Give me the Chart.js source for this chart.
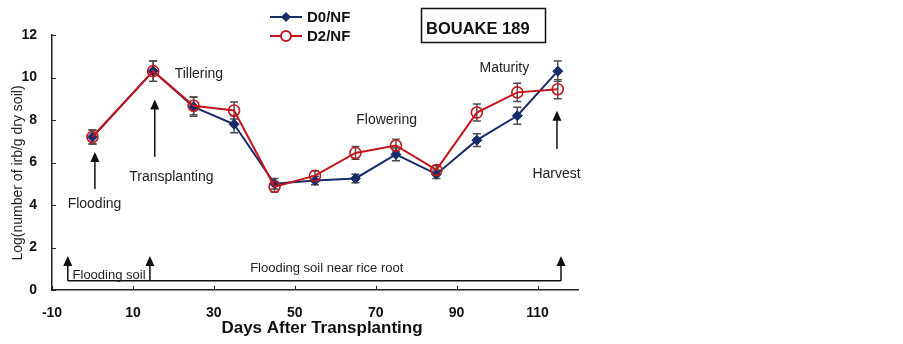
<!DOCTYPE html>
<html>
<head>
<meta charset="utf-8">
<script src="https://cdn.jsdelivr.net/npm/chart.js@4/dist/chart.umd.min.js"></script>
<style>
  html, body { margin: 0; padding: 0; background: #fff; }
  #wrap { width: 903px; height: 344px; }
</style>
</head>
<body>
<div id="wrap"><canvas id="myChart" width="903" height="344"></canvas></div>
<script>
// days after transplanting
const days = [0, 15, 25, 35, 45, 55, 65, 75, 85, 95, 105, 115];

const d0 = [7.2, 10.3, 8.62, 7.8, 5.0, 5.15, 5.25, 6.38, 5.45, 7.05, 8.2, 10.3];
const d0Err = [0.33, 0.48, 0.45, 0.4, 0.25, 0.2, 0.2, 0.3, 0.2, 0.3, 0.4, 0.48];
const d2 = [7.2, 10.3, 8.67, 8.45, 4.86, 5.38, 6.45, 6.8, 5.65, 8.35, 9.3, 9.45];
const d2Err = [0.33, 0.48, 0.42, 0.4, 0.25, 0.22, 0.3, 0.3, 0.2, 0.4, 0.43, 0.45];

const xTicks = [-10, 10, 30, 50, 70, 90, 110];
const yTicks = [0, 2, 4, 6, 8, 10, 12];

// growth stage notes (data coords)
const stageLabels = ['Tillering', 'Transplanting', 'Flooding', 'Flowering', 'Maturity', 'Harvest'];
const stageX = [26.3, 19.5, 0.5, 72.7, 101.8, 114.7];
const stageY = [10.17, 5.3, 4.03, 8.0, 10.43, 5.44];
const stageArrowX = [0.6, 15.4, 114.8];
const stageArrowFrom = [4.75, 6.27, 6.63];
const stageArrowTo = [6.5, 8.97, 8.44];

// flooding period line at the bottom
const periodY = 0.44;
const periodStart = -6.1;
const periodEnd = 115.8;
const periodArrowX = [-6.1, 14.2, 115.8];
const periodArrowTop = 1.6;
const periodLabels = ['Flooding soil', 'Flooding soil near rice root'];
const periodLabelX = [4.1, 57.9];
const periodLabelY = [0.7, 1.02];

const FONT = "'Liberation Sans', Arial, sans-serif";
const navy = '#172d6a';
const red = '#c3161c';

function toPoints(xs, ys) {
    let pts = [];
    for (let i = 0; i < xs.length; i++) {
        pts.push({x: xs[i], y: ys[i]});
    }
    return pts;
}

function arrowUp(ctx, x, yBottom, yTop) {
    ctx.beginPath();
    ctx.moveTo(x, yBottom);
    ctx.lineTo(x, yTop + 8);
    ctx.stroke();
    ctx.beginPath();
    ctx.moveTo(x, yTop);
    ctx.lineTo(x - 4.5, yTop + 10);
    ctx.lineTo(x + 4.5, yTop + 10);
    ctx.closePath();
    ctx.fill();
}

const errorBars = {
    id: 'errorBars',
    beforeDatasetsDraw(chart) {
        const ctx = chart.ctx;
        const xs = chart.scales.x, ys = chart.scales.y;
        const sets = [[d0, d0Err], [d2, d2Err]];
        ctx.save();
        ctx.strokeStyle = '#4a4a4a';
        ctx.lineWidth = 1.4;
        sets.forEach(function(s) {
            for (let i = 0; i < days.length; i++) {
                const px = xs.getPixelForValue(days[i]);
                const top = ys.getPixelForValue(s[0][i] + s[1][i]);
                const bot = ys.getPixelForValue(s[0][i] - s[1][i]);
                ctx.beginPath();
                ctx.moveTo(px, top); ctx.lineTo(px, bot);
                ctx.moveTo(px - 4, top); ctx.lineTo(px + 4, top);
                ctx.moveTo(px - 4, bot); ctx.lineTo(px + 4, bot);
                ctx.stroke();
            }
        });
        ctx.restore();
    }
};

const extras = {
    id: 'extras',
    afterDraw(chart) {
        const ctx = chart.ctx;
        const xs = chart.scales.x, ys = chart.scales.y;
        const area = chart.chartArea;
        ctx.save();

        // inside ticks
        ctx.strokeStyle = '#222';
        ctx.lineWidth = 1;
        xTicks.forEach(function(v) {
            const px = Math.round(xs.getPixelForValue(v)) + 0.5;
            ctx.beginPath();
            ctx.moveTo(px, area.bottom); ctx.lineTo(px, area.bottom - 4);
            ctx.stroke();
        });
        yTicks.forEach(function(v) {
            const py = Math.round(ys.getPixelForValue(v)) + 0.5;
            ctx.beginPath();
            ctx.moveTo(area.left, py); ctx.lineTo(area.left + 4, py);
            ctx.stroke();
        });

        // axis titles
        ctx.fillStyle = '#111';
        ctx.textAlign = 'center';
        ctx.textBaseline = 'middle';
        ctx.font = 'bold 17px ' + FONT;
        ctx.fillText('Days After Transplanting', 322, 328);

        ctx.save();
        ctx.translate(18, 173);
        ctx.rotate(-Math.PI / 2);
        ctx.fillStyle = '#222';
        ctx.font = '14px ' + FONT;
        ctx.fillText('Log(number of irb/g dry soil)', 0, 0);
        ctx.restore();

        // stage notes
        ctx.fillStyle = '#222';
        ctx.font = '14px ' + FONT;
        for (let i = 0; i < stageLabels.length; i++) {
            ctx.fillText(stageLabels[i], xs.getPixelForValue(stageX[i]), ys.getPixelForValue(stageY[i]));
        }
        ctx.strokeStyle = '#111';
        ctx.fillStyle = '#111';
        ctx.lineWidth = 1.5;
        for (let i = 0; i < stageArrowX.length; i++) {
            arrowUp(ctx, xs.getPixelForValue(stageArrowX[i]),
                ys.getPixelForValue(stageArrowFrom[i]), ys.getPixelForValue(stageArrowTo[i]));
        }

        // flooding period
        const lineY = ys.getPixelForValue(periodY);
        ctx.beginPath();
        ctx.moveTo(xs.getPixelForValue(periodStart), lineY);
        ctx.lineTo(xs.getPixelForValue(periodEnd), lineY);
        ctx.stroke();
        periodArrowX.forEach(function(v) {
            arrowUp(ctx, xs.getPixelForValue(v), lineY, ys.getPixelForValue(periodArrowTop));
        });
        ctx.fillStyle = '#222';
        ctx.font = '13px ' + FONT;
        for (let i = 0; i < periodLabels.length; i++) {
            ctx.fillText(periodLabels[i], xs.getPixelForValue(periodLabelX[i]), ys.getPixelForValue(periodLabelY[i]));
        }

        // legend
        const items = chart.data.datasets;
        ctx.textAlign = 'left';
        ctx.font = 'bold 15px ' + FONT;
        items.forEach(function(ds, i) {
            const ly = 17 + i * 19;
            ctx.strokeStyle = ds.borderColor;
            ctx.lineWidth = 2;
            ctx.beginPath();
            ctx.moveTo(270, ly); ctx.lineTo(302, ly);
            ctx.stroke();
            if (ds.pointStyle === 'rectRot') {
                ctx.fillStyle = ds.borderColor;
                ctx.beginPath();
                ctx.moveTo(286, ly - 5); ctx.lineTo(291, ly);
                ctx.lineTo(286, ly + 5); ctx.lineTo(281, ly);
                ctx.closePath();
                ctx.fill();
            } else {
                ctx.fillStyle = '#fff';
                ctx.beginPath();
                ctx.arc(286, ly, 5, 0, Math.PI * 2);
                ctx.fill();
                ctx.stroke();
            }
            ctx.fillStyle = '#111';
            ctx.fillText(ds.label, 307, ly + 1);
        });

        // title box
        ctx.strokeStyle = '#111';
        ctx.lineWidth = 1.5;
        ctx.strokeRect(421.5, 8.5, 124, 34);
        ctx.fillStyle = '#111';
        ctx.font = 'bold 16.5px ' + FONT;
        ctx.fillText('BOUAKE 189', 426, 29);

        ctx.restore();
    }
};

const config = {
    type: 'line',
    data: {
        datasets: [
            {
                label: 'D0/NF',
                data: toPoints(days, d0),
                borderColor: navy,
                backgroundColor: navy,
                borderWidth: 2,
                pointStyle: 'rectRot',
                pointRadius: 5,
                pointBorderWidth: 1,
                tension: 0,
                order: 1
            },
            {
                label: 'D2/NF',
                data: toPoints(days, d2),
                borderColor: red,
                backgroundColor: 'rgba(0,0,0,0)',
                borderWidth: 2,
                pointStyle: 'circle',
                pointRadius: 5.5,
                pointBorderWidth: 1.6,
                tension: 0,
                order: 0
            }
        ]
    },
    options: {
        responsive: false,
        animation: false,
        layout: { padding: { left: 0, right: 325, top: 35, bottom: 0 } },
        plugins: {
            legend: { display: false },
            tooltip: { enabled: false }
        },
        scales: {
            x: {
                type: 'linear',
                min: -10,
                max: 120,
                afterBuildTicks: function(s) { s.ticks = xTicks.map(v => ({value: v})); },
                afterFit: function(s) { s.height = 54; },
                grid: { display: false },
                border: { display: true, color: '#222', width: 1.5 },
                ticks: {
                    color: '#111',
                    padding: 7,
                    maxRotation: 0,
                    autoSkip: false,
                    font: { family: FONT, size: 14, weight: 'bold' }
                }
            },
            y: {
                min: 0,
                max: 12,
                afterBuildTicks: function(s) { s.ticks = yTicks.map(v => ({value: v})); },
                afterFit: function(s) { s.width = 52; },
                grid: { display: false },
                border: { display: true, color: '#222', width: 1.5 },
                ticks: {
                    color: '#111',
                    padding: 7,
                    font: { family: FONT, size: 14, weight: 'bold' }
                }
            }
        }
    },
    plugins: [errorBars, extras]
};

const myChart = new Chart(document.getElementById('myChart'), config);
</script>
</body>
</html>
